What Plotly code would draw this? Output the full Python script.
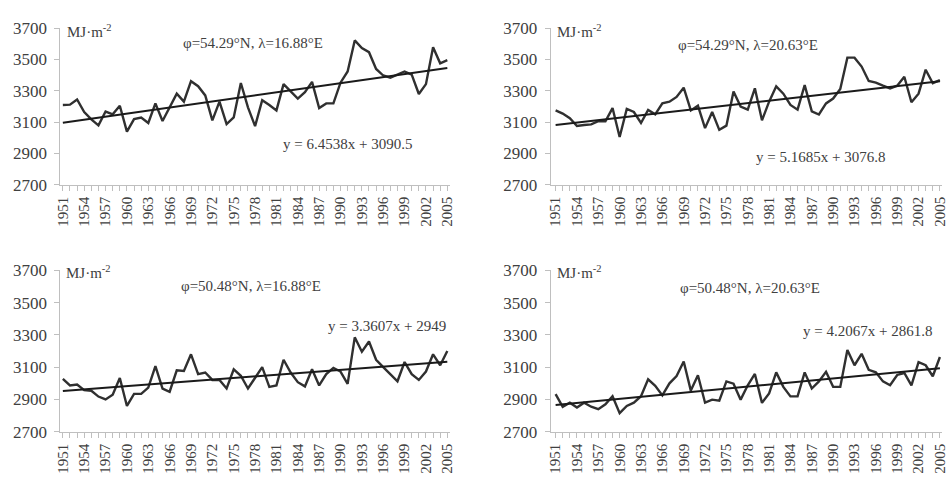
import plotly.graph_objects as go

years = list(range(1951, 2006))

s_54N_16E = [3210, 3212, 3245, 3165, 3118, 3080, 3168, 3150, 3205, 3040,
             3120, 3130, 3095, 3220, 3108, 3200, 3282, 3231, 3362, 3330,
             3271, 3112, 3231, 3088, 3130, 3350, 3195, 3075, 3240, 3210,
             3175, 3343, 3300, 3251, 3292, 3357, 3190, 3220, 3220, 3352,
             3424, 3622, 3573, 3547, 3440, 3398, 3384, 3404, 3424, 3404,
             3280, 3343, 3578, 3476, 3496]
s_54N_20E = [3175, 3155, 3125, 3076, 3082, 3086, 3106, 3106, 3190, 3005,
             3185, 3165, 3095, 3178, 3150, 3220, 3231, 3261, 3320, 3175,
             3205, 3062, 3165, 3051, 3078, 3296, 3200, 3180, 3316, 3112,
             3231, 3329, 3282, 3210, 3180, 3337, 3169, 3149, 3220, 3251,
             3312, 3512, 3512, 3455, 3363, 3353, 3333, 3316, 3333, 3390,
             3227, 3282, 3435, 3349, 3369]
s_50N_16E = [3027, 2987, 2993, 2958, 2954, 2918, 2900, 2930, 3033, 2860,
             2935, 2935, 2974, 3106, 2968, 2948, 3081, 3077, 3180, 3057,
             3067, 3021, 3021, 2968, 3087, 3047, 2968, 3037, 3100, 2978,
             2987, 3146, 3067, 3007, 2981, 3087, 2987, 3057, 3096, 3073,
             2997, 3285, 3196, 3259, 3146, 3100, 3057, 3013, 3132, 3057,
             3021, 3073, 3180, 3112, 3200]
s_50N_20E = [2933, 2855, 2880, 2850, 2880, 2855, 2840, 2870, 2920, 2815,
             2860, 2880, 2920, 3025, 2985, 2925, 3000, 3045, 3135, 2955,
             3050, 2880, 2899, 2893, 3012, 2998, 2899, 2988, 3058, 2879,
             2938, 3068, 2978, 2919, 2919, 3068, 2968, 3012, 3072, 2978,
             2978, 3207, 3112, 3183, 3084, 3068, 3012, 2988, 3052, 3064,
             2988, 3131, 3112, 3044, 3163]

series = [s_54N_16E, s_54N_20E, s_50N_16E, s_50N_20E]
slopes = [6.4538, 5.1685, 3.3607, 4.2067]
intercepts = [3090.5, 3076.8, 2949, 2861.8]
loc_labels = ["φ=54.29°N, λ=16.88°E", "φ=54.29°N, λ=20.63°E",
              "φ=50.48°N, λ=16.88°E", "φ=50.48°N, λ=20.63°E"]
eq_labels = ["y = 6.4538x + 3090.5", "y = 5.1685x + 3076.8",
             "y = 3.3607x + 2949", "y = 4.2067x + 2861.8"]
unit_label = "MJ·m<sup>-2</sup>"
y_ticks = [2700, 2900, 3100, 3300, 3500, 3700]

W, H = 950, 485
FONT = "Liberation Serif"
TXT = "#404040"

# pixel boxes of each panel (left, right, top, bottom)
boxes = [(55, 449, 20, 183), (551, 947, 20, 183),
         (55, 449, 272, 440), (551, 947, 272, 440)]
xranges = [[1950.65, 2005.35], [1950.3, 2005.3],
           [1950.65, 2005.35], [1950.3, 2005.3]]
# annotation positions in pixels: (loc x,y), (eq x,y), (unit x,y)
loc_pos = [(250, 35), (751, 37), (248, 288), (753, 290)]
eq_pos = [(346, 140), (824, 154), (385, 330), (872, 335)]
unit_pos = [(60, 23), (555, 23), (59, 274), (555, 274)]

fig = go.Figure()
layout = dict(width=W, height=H, margin=dict(l=0, r=0, t=0, b=0),
              paper_bgcolor="white", plot_bgcolor="white",
              showlegend=False, font=dict(family=FONT, color=TXT))
annotations = []
for i in range(4):
    k = "" if i == 0 else str(i + 1)
    L, R, T, B = boxes[i]
    xs = years
    trend = [slopes[i] * (j + 1) + intercepts[i] for j in range(len(years))]
    fig.add_trace(go.Scatter(x=xs, y=series[i], mode="lines",
                             line=dict(color="#303030", width=2.4),
                             xaxis="x" + k, yaxis="y" + k))
    fig.add_trace(go.Scatter(x=xs, y=trend, mode="lines",
                             line=dict(color="#1a1a1a", width=2),
                             xaxis="x" + k, yaxis="y" + k))
    layout["xaxis" + k] = dict(
        domain=[L / W, R / W], range=xranges[i], anchor="y" + k,
        tickmode="linear", tick0=1951, dtick=3, tickangle=-90,
        ticks="outside", ticklen=5, tickcolor="#bfbfbf",
        minor=dict(dtick=1, tick0=1951, ticks="outside", ticklen=5,
                   tickcolor="#bfbfbf", showgrid=False),
        showline=True, linecolor="#bfbfbf", linewidth=1,
        showgrid=False, zeroline=False,
        tickfont=dict(family=FONT, size=15, color=TXT))
    layout["yaxis" + k] = dict(
        domain=[1 - B / H, 1 - T / H], range=[2700, 3700], anchor="x" + k,
        tickvals=y_ticks, ticks="outside", ticklen=5, tickcolor="#bfbfbf",
        ticklabelstandoff=4,
        showline=True, linecolor="#bfbfbf", linewidth=1,
        showgrid=False, zeroline=False,
        tickfont=dict(family=FONT, size=17, color=TXT))
    annotations.append(dict(text=loc_labels[i], x=loc_pos[i][0] / W,
                            y=1 - loc_pos[i][1] / H, xref="paper", yref="paper",
                            showarrow=False, xanchor="center", yanchor="middle",
                            font=dict(family=FONT, size=15, color=TXT)))
    annotations.append(dict(text=eq_labels[i], x=eq_pos[i][0] / W,
                            y=1 - eq_pos[i][1] / H, xref="paper", yref="paper",
                            showarrow=False, xanchor="center", yanchor="middle",
                            font=dict(family=FONT, size=15, color=TXT)))
    annotations.append(dict(text=unit_label, x=unit_pos[i][0] / W,
                            y=1 - unit_pos[i][1] / H, xref="paper", yref="paper",
                            showarrow=False, xanchor="left", yanchor="middle",
                            font=dict(family=FONT, size=15, color=TXT)))
layout["annotations"] = annotations
fig.update_layout(**layout)
fig.write_html("out.html")
